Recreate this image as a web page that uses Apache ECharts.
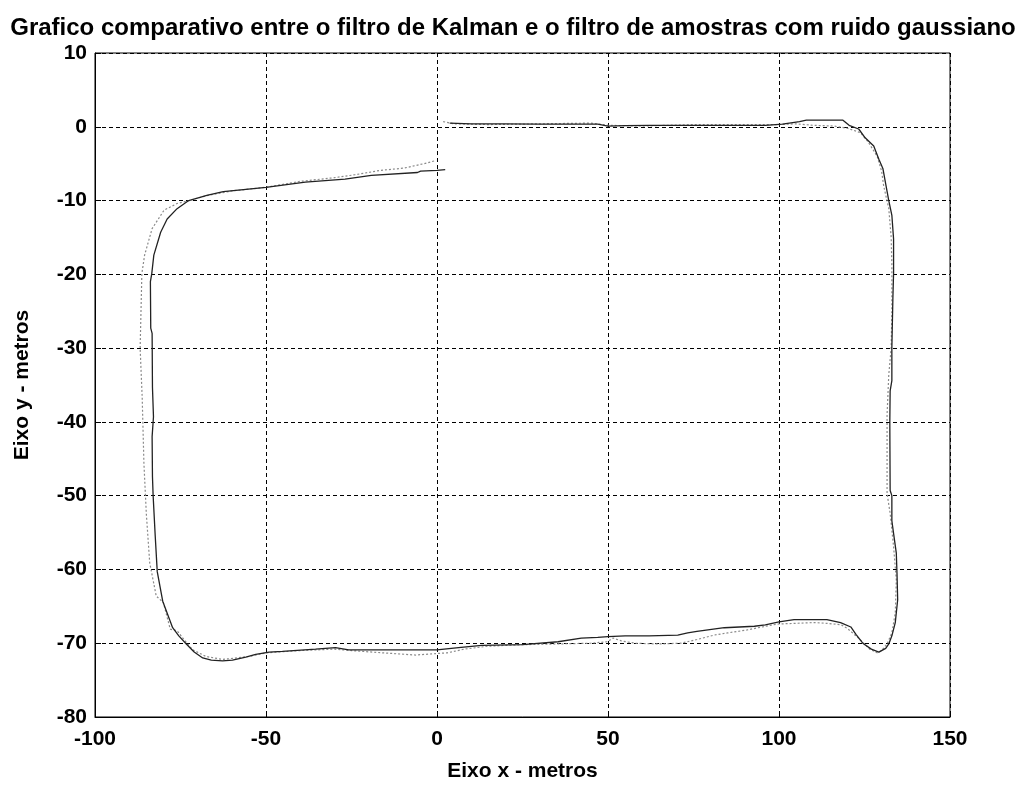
<!DOCTYPE html>
<html>
<head>
<meta charset="utf-8">
<script src="https://cdn.jsdelivr.net/npm/echarts@6/dist/echarts.min.js"></script>
<style>
html,body{margin:0;padding:0;background:#fff;}
#chart{width:1026px;height:787px;}
</style>
</head>
<body>
<div id="chart"></div>
<script>
// Kalman filter trajectory (solid black)
const kalmanX = [3.7,10,20,30,40,47,50,55,62,75,90,96,101,106,108,114,118.7,120.5,123.3,125.2,127.7,129.2,130.4,131.1,132.1,133,133.5,133.5,133.3,133,133,132.5,132.4,132.5,133,133,133.5,134.3,134.5,134.7,134,133,132.1,131.2,129.2,127,124.5,122.5,121,118,114,108,104.4,100,96,92.8,84,76,73.3,70.4,62,55,50,47,42.2,35.4,25,13.1,6.3,0,-16,-25.8,-29.7,-35.5,-45.2,-49.1,-53,-55.9,-59.8,-62.7,-66,-68.5,-71,-73.3,-75.5,-77.3,-80.2,-81.8,-82.4,-83,-83.2,-83.3,-82.9,-83.2,-83.3,-83.7,-83.8,-83.4,-82.8,-80.8,-78.9,-76,-72.6,-67.3,-62.5,-50,-38.5,-26.9,-19.2,-5.7,-4.8,0,2.4];
const kalmanY = [0.5,0.4,0.4,0.35,0.35,0.35,0.1,0.15,0.2,0.2,0.2,0.2,0.35,0.7,0.9,0.9,0.9,0.2,-0.3,-1.5,-2.6,-4.4,-5.7,-7.5,-10,-12,-15.2,-19.9,-23.2,-29.9,-34.4,-35.8,-40,-49.3,-50,-53.4,-55.1,-57.8,-60.5,-64.1,-67.2,-69,-70.1,-70.7,-71.2,-70.8,-70,-68.8,-67.8,-67.2,-66.8,-66.8,-66.8,-67.1,-67.5,-67.7,-67.9,-68.4,-68.6,-68.9,-69,-69,-69.1,-69.2,-69.3,-69.8,-70.2,-70.3,-70.6,-70.9,-70.9,-70.9,-70.6,-70.8,-71.1,-71.2,-71.5,-71.9,-72.3,-72.4,-72.3,-72,-71.2,-70.1,-69,-67.9,-64.3,-60.3,-55.4,-50,-47.4,-42,-39.3,-35.3,-28,-27.3,-21,-19.9,-17.4,-14.3,-12.5,-11.1,-10,-9.3,-8.8,-8.2,-7.5,-7.1,-6.6,-6.2,-6,-5.9,-5.8];
// Noisy samples filter trajectory (gray dotted)
const amostrasX = [1.8,5,15,30,45,50,60,75,90,100,105,110,116,120,123.8,126,128.7,130,130.6,132.1,132.8,133,133,132.8,132.1,131.6,131.6,131.6,132.5,133.5,134.3,134,133,131.6,130,128.7,126.5,125.9,123,120,118.1,114,110.3,105,99.6,95,90.7,85,81,76,71.3,65,58,54,51.5,49.8,45,35,25,15,8,3,-6.3,-16,-25,-30,-40,-50,-55,-62.7,-67.5,-71.4,-74,-76,-78,-80,-82.1,-84,-85,-85.7,-86.2,-86.8,-86.3,-85.5,-83.3,-79.8,-76,-72.6,-67,-60,-50,-40,-30,-24,-16.4,-9.6,-3.8,-0.5];
const amostrasY = [0.7,0.4,0.3,0.4,0.5,0.2,0.1,0.3,0.3,0.3,0.4,0.2,0.1,-0.2,-0.8,-2,-4,-6,-8,-11.1,-15,-18.8,-25,-30,-33.6,-39,-45,-49.7,-52.4,-56.9,-61.4,-65.9,-68.6,-70.1,-71,-71.3,-70.8,-70.5,-69.2,-68,-67.5,-67.3,-67.2,-67.3,-67.4,-67.8,-68.2,-68.6,-68.9,-69.5,-70,-70.1,-70,-69.7,-69.3,-69.8,-70,-70.1,-70.2,-70.4,-70.8,-71.3,-71.6,-71.3,-71,-70.8,-71,-71.3,-71.8,-72.2,-71.8,-70.9,-69.5,-68.3,-68.1,-64.5,-63.6,-59.1,-52.4,-45.6,-36.7,-30,-19.9,-17.4,-13.8,-11.3,-10.4,-10,-9.3,-8.7,-8.2,-7.4,-6.9,-6.5,-5.9,-5.6,-5,-4.6];
const xTicks = {min:-100, max:150, interval:50};
const yTicks = {min:-80, max:10, interval:10};

const pair = (xs, ys) => xs.map((x, i) => [x, ys[i]]);

const chart = echarts.init(document.getElementById('chart'), null, {renderer:'canvas'});
const fontFam = '"Liberation Sans", Arial, sans-serif';
const gridLine = {show:true, lineStyle:{color:'#000', type:[4,3], width:1}};
chart.setOption({
  animation:false,
  backgroundColor:'#fff',
  title:{
    text:'Grafico comparativo entre o filtro de Kalman e o filtro de amostras com ruido gaussiano',
    left:'center', top:11,
    textStyle:{fontFamily:fontFam, fontSize:24, fontWeight:'bold', color:'#000'}
  },
  grid:{left:95, right:76, top:53, bottom:65, show:true, borderColor:'#000', borderWidth:1, backgroundColor:'transparent'},
  xAxis:{
    type:'value', min:xTicks.min, max:xTicks.max, interval:xTicks.interval,
    name:'Eixo x - metros', nameLocation:'middle', nameGap:44,
    nameTextStyle:{fontFamily:fontFam, fontSize:21, fontWeight:'bold', color:'#000'},
    axisLine:{onZero:false, lineStyle:{color:'#000', width:1}},
    axisTick:{inside:true, length:6, lineStyle:{color:'#000'}},
    axisLabel:{fontFamily:fontFam, fontSize:21, fontWeight:'bold', color:'#000', margin:12},
    splitLine:gridLine
  },
  yAxis:{
    type:'value', min:yTicks.min, max:yTicks.max, interval:yTicks.interval,
    name:'Eixo y - metros', nameLocation:'middle', nameGap:62, nameRotate:90,
    nameTextStyle:{fontFamily:fontFam, fontSize:21, fontWeight:'bold', color:'#000'},
    axisLine:{onZero:false, lineStyle:{color:'#000', width:1}},
    axisTick:{inside:true, length:6, lineStyle:{color:'#000'}},
    axisLabel:{fontFamily:fontFam, fontSize:21, fontWeight:'bold', color:'#000', margin:8},
    splitLine:gridLine
  },
  series:[
    {
      name:'Amostras', type:'line', data:pair(amostrasX, amostrasY),
      showSymbol:false, symbol:'none', smooth:false, z:2,
      lineStyle:{color:'#8a8a8a', width:1.2, type:[2,2]}
    },
    {
      name:'Kalman', type:'line', data:pair(kalmanX, kalmanY),
      showSymbol:false, symbol:'none', smooth:false, z:3,
      lineStyle:{color:'#222', width:1.3}
    }
  ]
});
</script>
</body>
</html>
